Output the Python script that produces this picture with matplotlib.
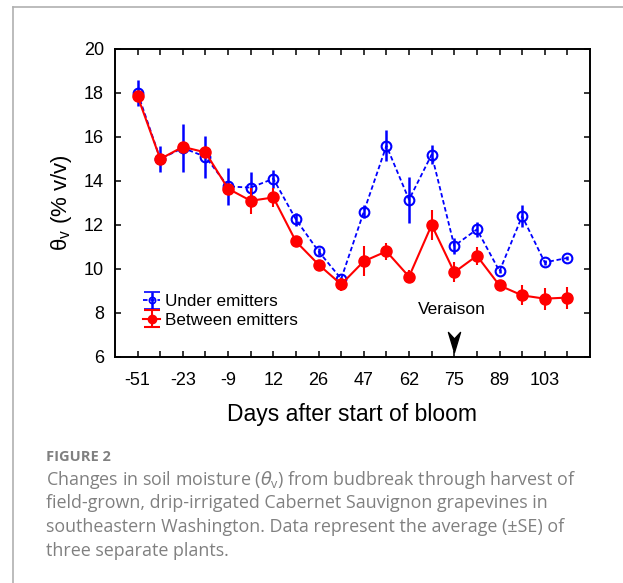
import numpy as np
import matplotlib
matplotlib.use('Agg')
import matplotlib.pyplot as plt
from matplotlib.lines import Line2D
from matplotlib.path import Path

plt.rcParams['font.family'] = ['Liberation Sans', 'DejaVu Sans']

# x axis: one sample every few days, labels on every other sample
day_labels = ['-51', '-23', '-9', '12', '26', '47', '62', '75', '89', '103']

under_mean = [18.0, 15.0, 15.5, 15.1, 13.75, 13.7, 14.1, 12.25, 10.8, 9.55,
              12.6, 15.6, 13.15, 15.2, 11.05, 11.8, 9.9, 12.4, 10.3, 10.5]
under_se = [0.6, 0.57, 1.1, 0.95, 0.85, 0.7, 0.4, 0.3, 0.15, 0.1,
            0.3, 0.7, 1.05, 0.45, 0.35, 0.35, 0.1, 0.5, 0.1, 0.1]

between_mean = [17.85, 15.0, 15.55, 15.3, 13.65, 13.1, 13.25, 11.25, 10.2, 9.3,
                10.35, 10.8, 9.65, 12.0, 9.85, 10.6, 9.25, 8.8, 8.65, 8.7]
between_se = [0.2, 0.2, 0.2, 0.2, 0.2, 0.6, 0.45, 0.1, 0.1, 0.3,
              0.68, 0.4, 0.3, 0.7, 0.45, 0.4, 0.2, 0.45, 0.5, 0.5]

veraison_index = 14
veraison_label = 'Veraison'

caption_title = 'FIGURE 2'
caption_lines = [
    'Changes in soil moisture ($\\theta_\\mathregular{v}$) from budbreak through harvest of',
    'field-grown, drip-irrigated Cabernet Sauvignon grapevines in',
    'southeastern Washington. Data represent the average (±SE) of',
    'three separate plants.',
]

idx = np.arange(len(under_mean))

fig = plt.figure(figsize=(6.23, 5.83), dpi=100)
ax = fig.add_axes([0.1846, 0.3877, 0.7624, 0.5283])

ax.errorbar(idx, under_mean, yerr=under_se, color='#0000FF', linestyle=(0, (2.5, 1.5)),
            linewidth=1.3, marker='o', markersize=7, markerfacecolor='none',
            markeredgewidth=1.5, elinewidth=1.8, capsize=0, zorder=2)
ax.errorbar(idx, between_mean, yerr=between_se, color='#FF0000', linestyle='-',
            linewidth=1.5, marker='o', markersize=8, elinewidth=1.5, capsize=0, zorder=3)

# legend entries carry caps, the plotted bars do not
h_under = ax.errorbar([np.nan], [np.nan], yerr=[np.nan], color='#0000FF',
                      linestyle=(0, (2.5, 1.5)), linewidth=1.3, marker='o', markersize=4.5,
                      markerfacecolor='none', markeredgewidth=1.2, elinewidth=1.8,
                      capsize=6, capthick=1.8, label='Under emitters')
h_between = ax.errorbar([np.nan], [np.nan], yerr=[np.nan], color='#FF0000', linestyle='-',
                        linewidth=1.5, marker='o', markersize=6, elinewidth=1.5,
                        capsize=6, capthick=1.5, label='Between emitters')
ax.legend(handles=[h_under, h_between], loc='lower left', bbox_to_anchor=(0.045, 0.073),
          frameon=False, fontsize=12.3, handlelength=1.0, handletextpad=0.25,
          labelspacing=0.2, borderaxespad=0, borderpad=0.4)

# veraison marker
arrow = Path([(0, -1), (-0.6, 1), (0, 0.35), (0.6, 1), (0, -1)],
             [Path.MOVETO, Path.LINETO, Path.LINETO, Path.LINETO, Path.CLOSEPOLY])
ax.plot([veraison_index], [6.7], marker=arrow, markersize=14.5, color='black',
        linestyle='none', zorder=4)
ax.text(veraison_index - 0.1, 8.18, veraison_label, ha='center', va='center', fontsize=12.5)

ax.set_xlim(-1, len(under_mean))
ax.set_ylim(6, 20)
ax.set_xticks(idx[::2])
ax.set_xticklabels(day_labels)
ax.set_xticks(idx[1::2], minor=True)
ax.set_yticks(np.arange(6, 21, 2))
ax.tick_params(which='both', direction='in', top=True, right=True, length=4, width=1.1)
ax.tick_params(axis='both', labelsize=13)
ax.tick_params(axis='x', pad=11)
ax.tick_params(axis='y', pad=8)
for s in ax.spines.values():
    s.set_linewidth(1.4)

ax.set_xlabel('Days after start of bloom', fontsize=16.5, labelpad=10)
ax.set_ylabel('θ$_\\mathregular{v}$ (% v/v)', fontsize=16, labelpad=7)

# page frame lines
fig.add_artist(Line2D([13 / 623, 13 / 623], [0, 1 - 7 / 583], color='#b0b0b0', linewidth=1.2))
fig.add_artist(Line2D([13 / 623, 1], [1 - 7 / 583, 1 - 7 / 583], color='#b0b0b0', linewidth=1.2))

fig.text(46 / 623, 1 - 461 / 583, caption_title, fontsize=10.5, fontweight='bold',
         family=['Open Sans', 'DejaVu Sans'], color='#808080', va='baseline')
for i, line in enumerate(caption_lines):
    fig.text(46 / 623, 1 - (485 + 23.5 * i) / 583, line, fontsize=12.9,
             family=['Open Sans', 'DejaVu Sans'], color='#808080', va='baseline')

fig.savefig('out.png', dpi=100)
